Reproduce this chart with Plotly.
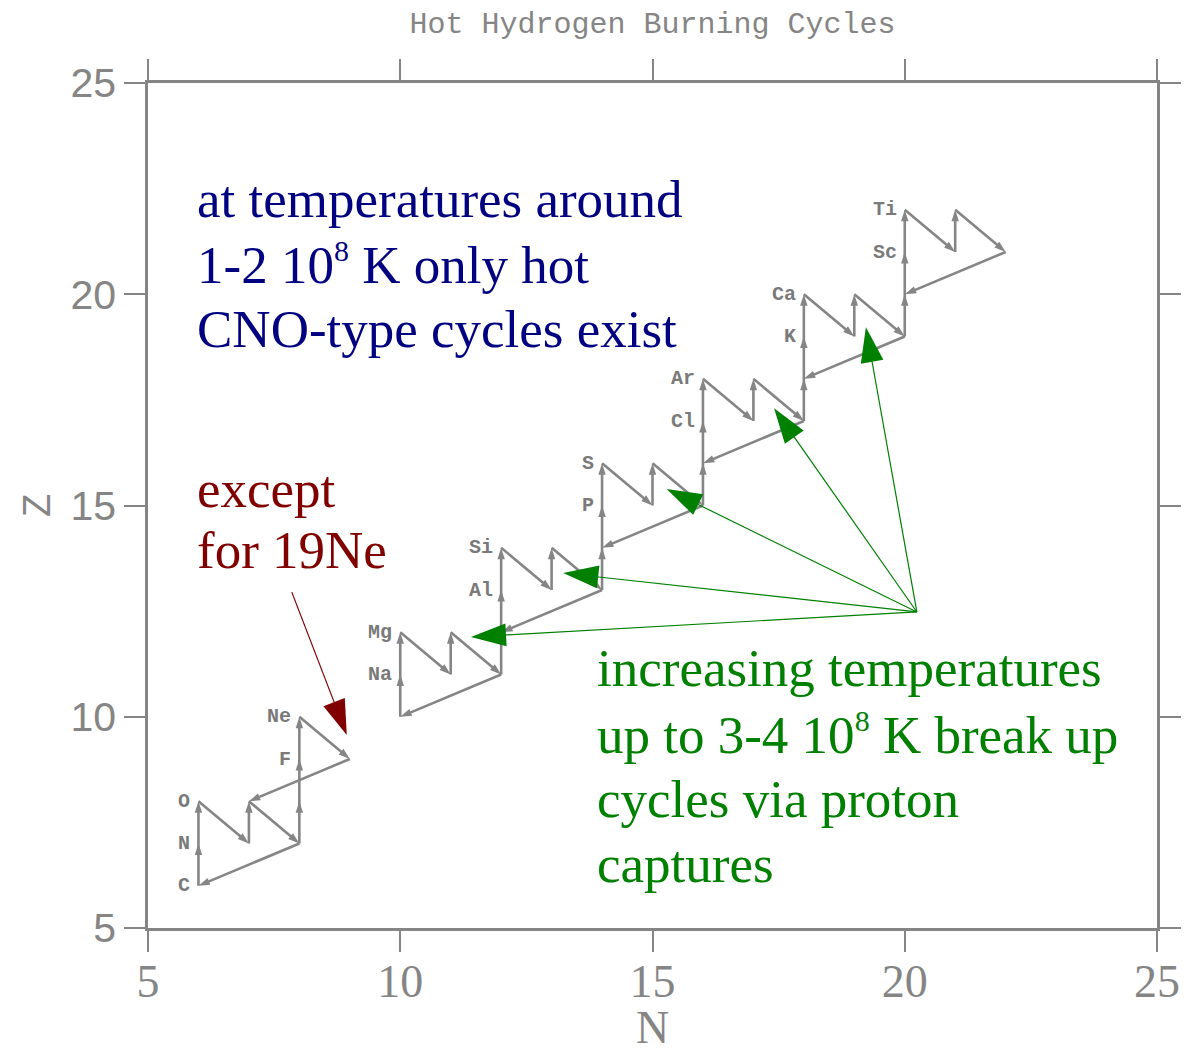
import plotly.graph_objects as go

# Reaction paths in the (N, Z) plane; each step ends in an arrowhead.
path_n = [
    [6, 6, 6, 7, 7, 8, 6],              # CNO cycle
    [8, 8, 8, 8, 9, 7],                 # 15N -> 18Ne -> 18F -> 15O
    [10, 10, 10, 11, 11, 12, 10],       # NeNa cycle
    [12, 12, 12, 12, 13, 13, 14, 12],   # MgAl cycle
    [14, 14, 14, 14, 15, 15, 16, 14],   # SiP cycle
    [16, 16, 16, 16, 17, 17, 18, 16],   # SCl cycle
    [18, 18, 18, 18, 19, 19, 20, 18],   # ArK cycle
    [20, 20, 20, 20, 21, 21, 22, 20],   # CaSc cycle
]
path_z = [
    [6, 7, 8, 7, 8, 7, 6],
    [7, 8, 9, 10, 9, 8],
    [10, 11, 12, 11, 12, 11, 10],
    [11, 12, 13, 14, 13, 14, 13, 12],
    [13, 14, 15, 16, 15, 16, 15, 14],
    [15, 16, 17, 18, 17, 18, 17, 16],
    [17, 18, 19, 20, 19, 20, 19, 18],
    [19, 20, 21, 22, 21, 22, 21, 20],
]

# Element names written beside the isotope columns
elem_names = ["C", "N", "O", "F", "Ne", "Na", "Mg", "Al", "Si",
              "P", "S", "Cl", "Ar", "K", "Ca", "Sc", "Ti"]
elem_n = [6, 6, 6, 8, 8, 10, 10, 12, 12, 14, 14, 16, 16, 18, 18, 20, 20]
elem_z = [6, 7, 8, 9, 10, 11, 12, 13, 14, 15, 16, 17, 18, 19, 20, 21, 22]

# Pointer arrows (tail -> tip) in axis units
green_tail = (20.24, 12.48)
green_tip_n = [11.40, 13.23, 15.28, 17.41, 19.23]
green_tip_z = [11.89, 13.40, 15.39, 17.30, 19.22]
red_tail = (7.85, 12.95)
red_tip = (8.94, 9.57)

ticks = [5, 10, 15, 20, 25]

GRAY = "#858585"
LABEL_GRAY = "#7a7a7a"
BLUE = "#000080"
RED = "#800000"
GREEN = "#008000"
SERIF = "Liberation Serif"

fig = go.Figure()

for xs, zs in zip(path_n, path_z):
    fig.add_trace(go.Scatter(
        x=xs, y=zs, mode="lines+markers",
        line=dict(color=GRAY, width=2.6),
        marker=dict(symbol="arrow", angleref="previous", opacity=1,
                    size=[0] + [12] * (len(xs) - 1), color=GRAY,
                    line=dict(width=0)),
        hoverinfo="skip", showlegend=False,
    ))

for tn, tz in zip(green_tip_n, green_tip_z):
    fig.add_trace(go.Scatter(
        x=[green_tail[0], tn], y=[green_tail[1], tz], mode="lines+markers",
        line=dict(color=GREEN, width=1.2),
        marker=dict(symbol="arrow", angleref="previous", size=[0, 37],
                    opacity=1, color=GREEN, line=dict(width=0)),
        hoverinfo="skip", showlegend=False,
    ))

fig.add_trace(go.Scatter(
    x=[red_tail[0], red_tip[0]], y=[red_tail[1], red_tip[1]], mode="lines+markers",
    line=dict(color=RED, width=1.2),
    marker=dict(symbol="arrow", angleref="previous", size=[0, 37],
                opacity=1, color=RED, line=dict(width=0)),
    hoverinfo="skip", showlegend=False,
))

annotations = []
for name, n, z in zip(elem_names, elem_n, elem_z):
    annotations.append(dict(
        x=n, y=z, xref="x", yref="y", text=f"<b>{name}</b>", showarrow=False,
        xanchor="right", yanchor="middle", xshift=-6,
        font=dict(family="Liberation Mono", size=20, color=LABEL_GRAY),
    ))


def text_lines(lines, x, ys, color):
    for txt, y in zip(lines, ys):
        annotations.append(dict(
            x=x, y=y, xref="x", yref="y", text=txt, showarrow=False,
            xanchor="left", yanchor="middle",
            font=dict(family=SERIF, size=53, color=color),
        ))


SUP8 = '<sup><span style="font-size:30px">8</span></sup>'
text_lines(["at temperatures around",
            f"1-2 10{SUP8} K only hot",
            "CNO-type cycles exist"],
           5.94, [22.26, 20.72, 19.18], BLUE)
text_lines(["except", "for 19Ne"], 5.94, [15.40, 13.94], RED)
text_lines(["increasing temperatures",
            f"up to 3-4 10{SUP8} K break up",
            "cycles via proton",
            "captures"],
           13.86, [11.15, 9.59, 8.05, 6.51], GREEN)

axis_common = dict(
    range=[5, 25], tickvals=ticks, showgrid=False, zeroline=False,
    showline=True, linecolor=GRAY, linewidth=2.5, mirror="ticks",
    ticks="outside", ticklen=21, tickwidth=1.5, tickcolor=GRAY,
    automargin=False,
)

fig.update_layout(
    width=1186, height=1053,
    margin=dict(l=148, r=29, t=83, b=125, autoexpand=False),
    paper_bgcolor="white", plot_bgcolor="white",
    title=dict(text="Hot Hydrogen Burning Cycles", x=0.5, xref="paper",
               xanchor="center", y=1 - 22 / 1053, yanchor="middle",
               font=dict(family="Liberation Mono", size=30, color=GRAY)),
    xaxis=dict(**axis_common, ticklabelstandoff=-10,
               tickfont=dict(family=SERIF, size=46, color=GRAY),
               title=dict(text="N", standoff=4,
                          font=dict(family=SERIF, size=46, color=GRAY))),
    yaxis=dict(**axis_common,
               tickfont=dict(family="Liberation Sans", size=41, color=GRAY),
               title=dict(text="Z", standoff=9,
                          font=dict(family="Liberation Sans", size=38, color=GRAY))),
    annotations=annotations,
)

fig.write_html("out.html")
